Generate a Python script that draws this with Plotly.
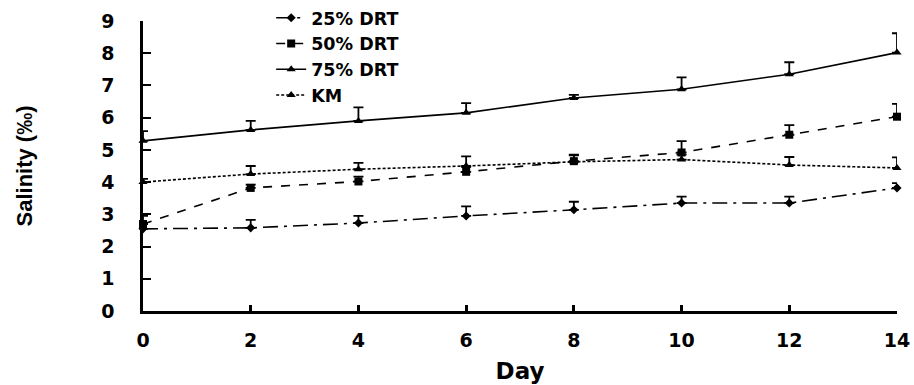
import plotly.graph_objects as go

days = [0, 2, 4, 6, 8, 10, 12, 14]
drt25 = [2.55, 2.58, 2.73, 2.95, 3.14, 3.35, 3.35, 3.82]
drt25_err = [0.0, 0.25, 0.22, 0.3, 0.25, 0.2, 0.2, 0.15]
drt50 = [2.7, 3.82, 4.02, 4.32, 4.65, 4.92, 5.47, 6.03]
drt50_err = [0.25, 0.1, 0.15, 0.15, 0.2, 0.35, 0.3, 0.4]
drt75 = [5.28, 5.62, 5.9, 6.15, 6.61, 6.88, 7.35, 8.02]
drt75_err = [0.3, 0.28, 0.42, 0.3, 0.1, 0.37, 0.37, 0.6]
km = [4.0, 4.25, 4.4, 4.5, 4.63, 4.7, 4.53, 4.44]
km_err = [0.1, 0.25, 0.2, 0.3, 0.2, 0.15, 0.25, 0.33]

series = [
    ("25% DRT", drt25, drt25_err, "longdashdot", "diamond", 7),
    ("50% DRT", drt50, drt50_err, "dash", "square", 8),
    ("75% DRT", drt75, drt75_err, "solid", "triangle-up", 8),
    ("KM", km, km_err, "3px,2px", "triangle-up", 8),
]

fig = go.Figure()
for name, vals, err, dash, sym, size in series:
    fig.add_trace(go.Scatter(
        x=days, y=vals, name=name, mode="lines+markers",
        line=dict(color="black", width=1.6, dash=dash),
        marker=dict(symbol=sym, size=size, color="black"),
        error_y=dict(type="data", symmetric=False, array=err,
                     arrayminus=[0] * len(err), color="black",
                     thickness=1.8, width=5),
        cliponaxis=False,
    ))

wide = "DejaVu Sans, Verdana, sans-serif"
fig.update_layout(
    width=914, height=385,
    margin=dict(l=143, r=17, t=21, b=74, autoexpand=False),
    paper_bgcolor="white", plot_bgcolor="white",
    showlegend=True,
    legend=dict(x=0.17, y=1.073, xanchor="left", yanchor="top",
                bgcolor="rgba(0,0,0,0)", tracegroupgap=0,
                font=dict(family=wide, size=17.5, color="black", weight="bold"),
                itemwidth=30),
    xaxis=dict(range=[0, 14], tickvals=days, ticks="inside", ticklen=6,
               tickwidth=3, tickcolor="black", showline=True, linecolor="black",
               linewidth=2.5, showgrid=False, zeroline=False,
               ticklabelstandoff=10,
               tickfont=dict(family=wide, size=19, color="black", weight="bold"),
               title=dict(text="Day", standoff=14,
                          font=dict(family=wide, size=23, color="black", weight="bold"))),
    yaxis=dict(range=[0, 9], dtick=1, ticks="inside", ticklen=8,
               tickwidth=2, tickcolor="black", showline=True, linecolor="black",
               linewidth=2.5, showgrid=False, zeroline=False,
               ticklabelstandoff=22,
               tickfont=dict(family=wide, size=19, color="black", weight="bold"),
               title=dict(text="Salinity (‰)", standoff=63,
                          font=dict(family="Liberation Sans Narrow, Arial Narrow, sans-serif",
                                    size=22, color="black", weight="bold"))),
)

fig.write_html("out.html")
